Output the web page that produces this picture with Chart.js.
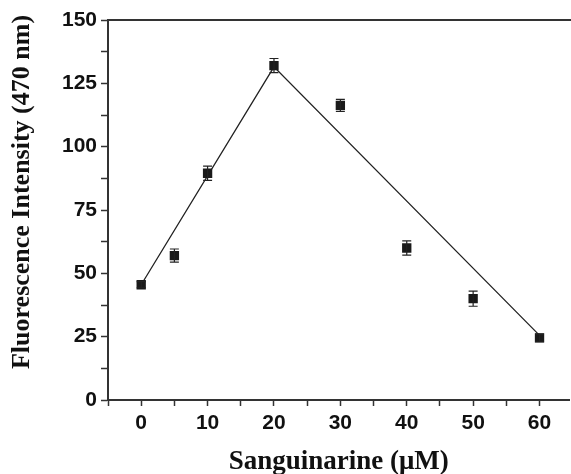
<!DOCTYPE html>
<html>
<head>
<meta charset="utf-8">
<script src="https://cdn.jsdelivr.net/npm/chart.js@4/dist/chart.umd.min.js"></script>
<style>
  html, body { margin: 0; padding: 0; background: #fff; overflow: hidden; }
  #wrap { width: 576px; height: 474px; position: relative; }
</style>
</head>
<body>
<div id="wrap"><canvas id="myChart"></canvas></div>
<script>
// Sanguinarine concentration (uM) and measured fluorescence at 470 nm
const conc = [0, 5, 10, 20, 30, 40, 50, 60];
const intensity = [45.5, 57, 89.5, 132, 116.3, 60, 40, 24.5];
const errors = [1.2, 2.6, 2.8, 2.8, 2.4, 2.8, 3, 1.5];

// Trend line drawn through the plot
const fitX = [0, 20, 60];
const fitY = [45.5, 131.5, 25.5];

const tickFont = { family: 'Liberation Sans', weight: 'bold', size: 21 };
const titleFont = { family: 'Liberation Serif', weight: 'bold', size: 27 };
const axisColor = '#333';

// error bars, top frame line and the y title
const extras = {
    id: 'extras',
    afterDatasetsDraw(chart) {
        const { ctx, scales: { x, y } } = chart;
        ctx.save();
        ctx.strokeStyle = '#222';
        ctx.lineWidth = 1.2;
        conc.forEach((c, i) => {
            const px = x.getPixelForValue(c);
            const top = y.getPixelForValue(intensity[i] + errors[i]);
            const bot = y.getPixelForValue(intensity[i] - errors[i]);
            ctx.beginPath();
            ctx.moveTo(px, top); ctx.lineTo(px, bot);
            ctx.moveTo(px - 4.5, top); ctx.lineTo(px + 4.5, top);
            ctx.moveTo(px - 4.5, bot); ctx.lineTo(px + 4.5, bot);
            ctx.stroke();
        });
        ctx.restore();
    },
    afterDraw(chart) {
        const { ctx, chartArea } = chart;
        ctx.save();
        ctx.strokeStyle = axisColor;
        ctx.lineWidth = 2;
        ctx.beginPath();
        ctx.moveTo(chartArea.left, chartArea.top);
        ctx.lineTo(chart.width, chartArea.top);
        ctx.stroke();

        ctx.translate(22, 192);
        ctx.rotate(-Math.PI / 2);
        ctx.fillStyle = '#111';
        ctx.font = 'bold 26px "Liberation Serif"';
        ctx.textAlign = 'center';
        ctx.textBaseline = 'middle';
        ctx.fillText('Fluorescence Intensity (470 nm)', 0, 0);
        ctx.restore();
    }
};

const config = {
    type: 'scatter',
    data: {
        datasets: [
            {
                data: fitX.map((v, i) => ({ x: v, y: fitY[i] })),
                showLine: true,
                borderColor: '#222',
                borderWidth: 1.3,
                pointRadius: 0,
                order: 2
            },
            {
                data: conc.map((v, i) => ({ x: v, y: intensity[i] })),
                pointStyle: 'rect',
                pointRadius: 6.6,
                backgroundColor: '#1a1a1a',
                borderColor: '#1a1a1a',
                borderWidth: 0,
                order: 1
            }
        ]
    },
    options: {
        responsive: true,
        maintainAspectRatio: false,
        animation: false,
        layout: { padding: { top: 20, right: 0, left: 0, bottom: 0 } },
        plugins: {
            legend: { display: false },
            tooltip: { enabled: false }
        },
        scales: {
            x: {
                type: 'linear',
                min: -5,
                max: 64.5,
                afterFit: s => { s.height = 74; s.paddingRight = 0; s.paddingLeft = 0; },
                border: { display: true, color: axisColor, width: 2 },
                grid: { drawOnChartArea: false, drawTicks: true, tickLength: 6, tickColor: axisColor, tickWidth: 1.5 },
                ticks: {
                    stepSize: 5,
                    includeBounds: false,
                    autoSkip: false,
                    maxRotation: 0,
                    padding: 5,
                    color: '#111',
                    font: tickFont,
                    callback: v => (v % 10 === 0 ? v : '')
                },
                title: {
                    display: true,
                    text: 'Sanguinarine (μM)',
                    color: '#111',
                    font: titleFont,
                    padding: { top: 4, bottom: -4 }
                }
            },
            y: {
                min: 0,
                max: 150,
                afterFit: s => { s.width = 108; },
                border: { display: true, color: axisColor, width: 2 },
                grid: { drawOnChartArea: false, drawTicks: true, tickLength: 7, tickColor: axisColor, tickWidth: 1.5 },
                ticks: {
                    stepSize: 12.5,
                    autoSkip: false,
                    padding: 4,
                    color: '#111',
                    font: tickFont,
                    callback: v => (v % 25 === 0 ? v : '')
                },
                title: { display: false }
            }
        }
    },
    plugins: [extras]
};

const myChart = new Chart(document.getElementById('myChart'), config);
</script>
</body>
</html>
